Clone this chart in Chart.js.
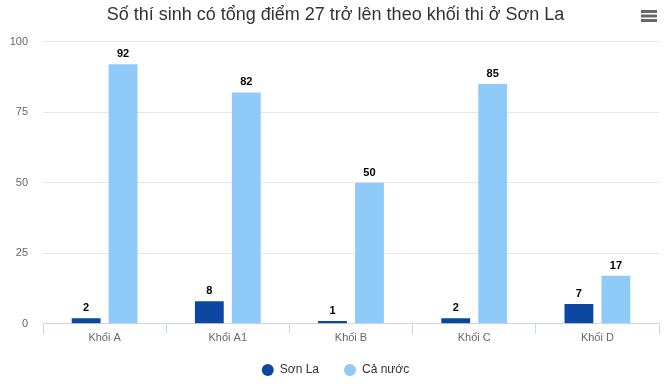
<!DOCTYPE html>
<html>
<head>
<meta charset="utf-8">
<script src="https://cdn.jsdelivr.net/npm/chart.js@4/dist/chart.umd.min.js"></script>
<style>
html,body{margin:0;padding:0;background:#fff;}
#wrap{width:671px;height:392px;}
</style>
</head>
<body>
<div id="wrap"><canvas id="c" width="671" height="392"></canvas></div>
<script>
const categories = ["Khối A", "Khối A1", "Khối B", "Khối C", "Khối D"];
const sonLa = [2, 8, 1, 2, 7];
const caNuoc = [92, 82, 50, 85, 17];
const yTicks = [0, 25, 50, 75, 100];
const seriesNames = ["Sơn La", "Cả nước"];
const titleText = "Số thí sinh có tổng điểm 27 trở lên theo khối thi ở Sơn La";

const FONT = "'Liberation Sans', Arial, Helvetica, sans-serif";

const dataLabels = {
  id: 'dataLabels',
  afterDatasetsDraw(chart) {
    const ctx = chart.ctx;
    ctx.save();
    ctx.font = "bold 11px " + FONT;
    ctx.textAlign = 'center';
    ctx.textBaseline = 'middle';
    ctx.lineJoin = 'round';
    chart.data.datasets.forEach((ds, i) => {
      const meta = chart.getDatasetMeta(i);
      meta.data.forEach((bar, j) => {
        const txt = String(ds.data[j]);
        const y = bar.y - 10;
        ctx.strokeStyle = '#ffffff';
        ctx.lineWidth = 3;
        ctx.strokeText(txt, bar.x, y);
        ctx.fillStyle = '#000000';
        ctx.fillText(txt, bar.x, y);
      });
    });
    ctx.restore();
  }
};

const menuIcon = {
  id: 'menuIcon',
  afterDraw(chart) {
    const ctx = chart.ctx;
    ctx.save();
    ctx.strokeStyle = '#666666';
    ctx.lineWidth = 3;
    [11.5, 16, 20.5].forEach(y => {
      ctx.beginPath();
      ctx.moveTo(641, y);
      ctx.lineTo(657, y);
      ctx.stroke();
    });
    ctx.restore();
  }
};

new Chart(document.getElementById('c'), {
  type: 'bar',
  data: {
    labels: categories,
    datasets: [
      { label: seriesNames[0], data: sonLa, backgroundColor: '#0d47a1', categoryPercentage: 0.6, barPercentage: 0.78 },
      { label: seriesNames[1], data: caNuoc, backgroundColor: '#90caf9', categoryPercentage: 0.6, barPercentage: 0.78 }
    ]
  },
  options: {
    responsive: false,
    animation: false,
    devicePixelRatio: 1,
    layout: { padding: { left: 0, right: 0, top: 0, bottom: 6 } },
    plugins: {
      title: {
        display: true,
        text: titleText,
        color: '#333333',
        font: { family: FONT, size: 18, weight: 'normal' },
        padding: { top: 4, bottom: 16 }
      },
      legend: {
        position: 'bottom',
        labels: {
          usePointStyle: true,
          pointStyle: 'circle',
          boxHeight: 8.5,
          boxWidth: 12,
          padding: 25,
          color: '#333333',
          font: { family: FONT, size: 12, weight: 'normal' }
        }
      },
      tooltip: { enabled: false }
    },
    scales: {
      x: {
        afterFit(scale) {
          scale.height = scale.height - 4;
          scale._computeLabelArea = () => undefined;
        },
        grid: { display: true, drawOnChartArea: false, drawTicks: true, tickLength: 10, color: '#ccd6eb', offset: true },
        border: { display: true, color: '#ccd6eb', width: 1 },
        ticks: { color: '#666666', font: { family: FONT, size: 11 }, padding: -2 }
      },
      y: {
        min: 0, max: 100,
        afterBuildTicks(scale) { scale.ticks = yTicks.map(v => ({ value: v })); },
        afterFit(scale) { scale.width = 43; },
        grid: { color: '#e6e6e6', drawTicks: false },
        border: { display: false },
        ticks: { color: '#666666', font: { family: FONT, size: 11 }, padding: 15 }
      },
      yRight: {
        position: 'right',
        display: true,
        min: 0, max: 100,
        afterFit(scale) { scale.width = 12; },
        grid: { display: false, drawTicks: false },
        border: { display: false },
        ticks: { display: false }
      }
    }
  },
  plugins: [dataLabels, menuIcon]
});
</script>
</body>
</html>
